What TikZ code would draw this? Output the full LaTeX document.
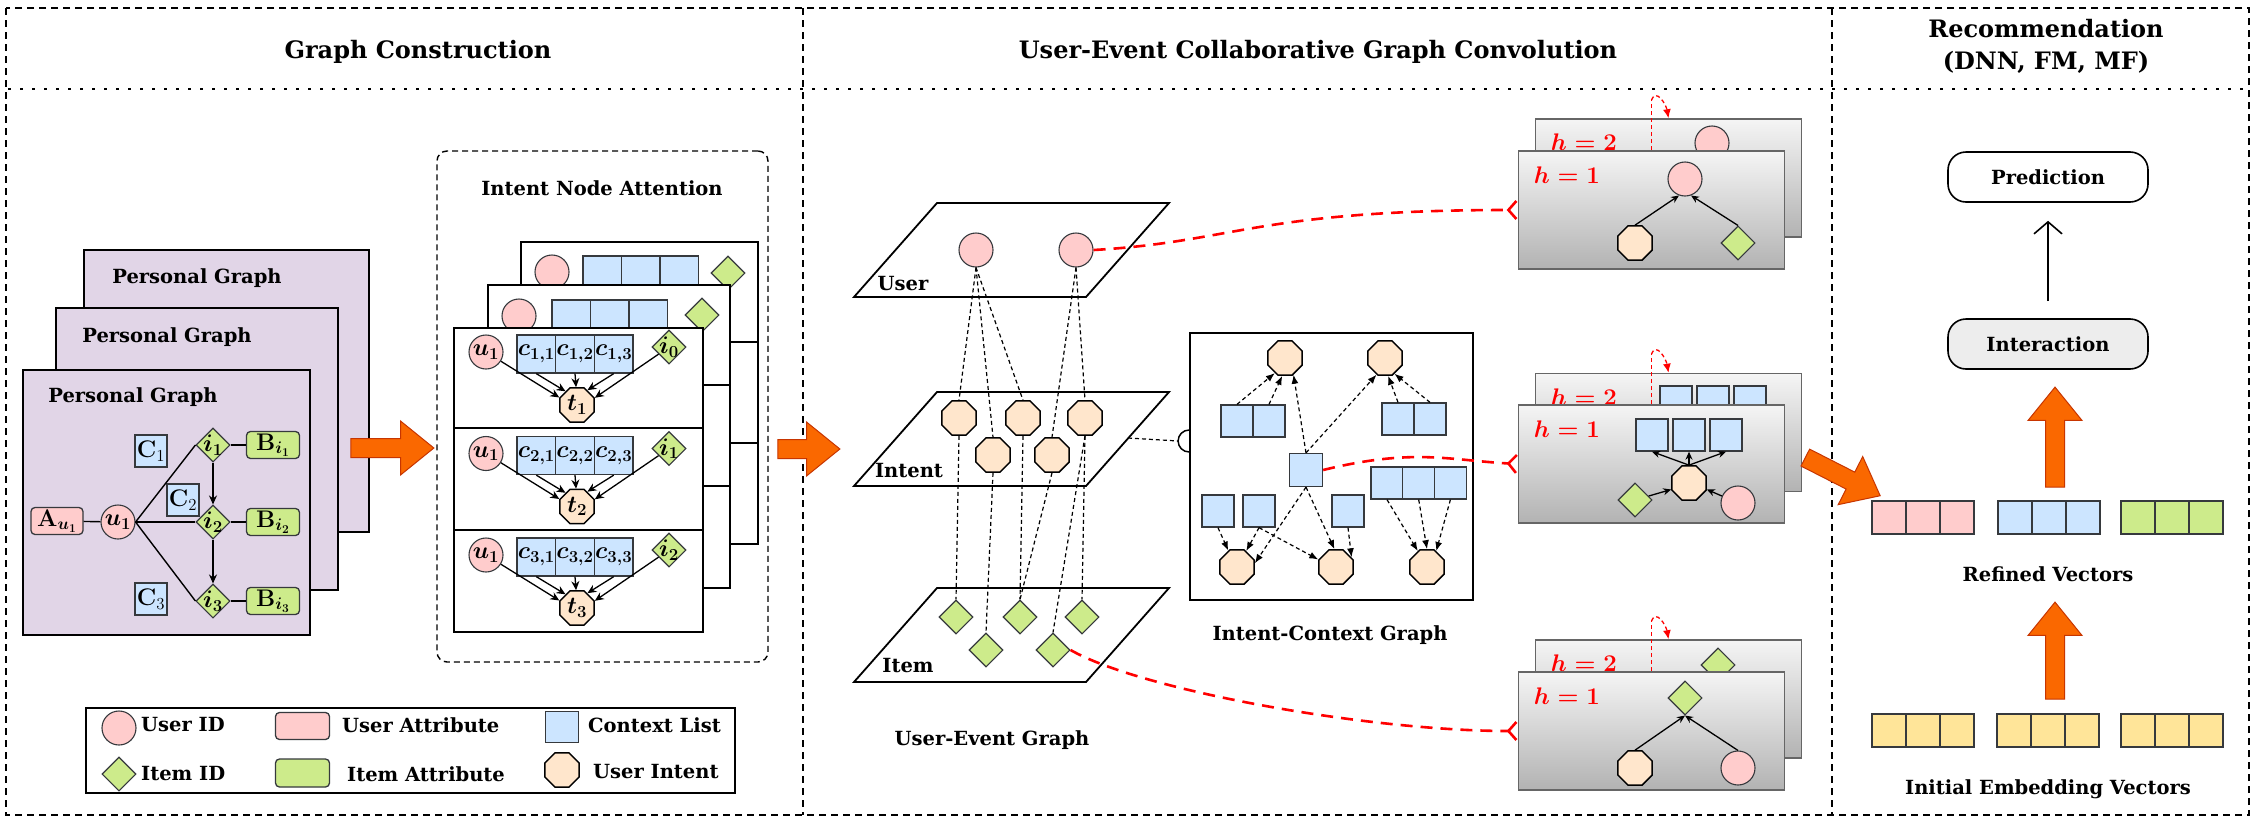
\RequirePackage{fix-cm}
\documentclass[tikz,border=0pt]{standalone}
\usepackage{amsmath}
\usepackage[no-math]{fontspec}
\setmainfont{DejaVu Serif}
\usepackage{tikz}
\usetikzlibrary{shapes.geometric,shapes.arrows,arrows.meta,positioning}

\definecolor{pgfill}{HTML}{E1D5E7}
\definecolor{pinkc}{HTML}{FFCCCC}
\definecolor{greenc}{HTML}{CDEB8B}
\definecolor{bluec}{HTML}{CCE5FF}
\definecolor{intentc}{HTML}{FFE6CC}
\definecolor{yellowc}{HTML}{FFE599}
\definecolor{edgec}{HTML}{36393D}
\definecolor{orangec}{HTML}{FA6800}
\definecolor{orangeb}{HTML}{C73500}
\definecolor{cardb}{HTML}{666666}

\newcommand{\figlbl}{\fontsize{19.5}{23}\selectfont\bfseries}
\newcommand{\figttl}{\fontsize{24}{32}\selectfont\bfseries}
\newcommand{\figmath}{\fontsize{24}{26}\selectfont}

\begin{document}
\begin{tikzpicture}[x=1pt,y=-1pt,
  framedash/.style={line width=1.6pt,dash pattern=on 7pt off 5pt},
  dotsep/.style={line width=2.6pt,dash pattern=on 2.6pt off 9.4pt},
  pgcard/.style={draw,fill=pgfill,line width=1.8pt,anchor=north west,inner sep=0pt},
  ucirc/.style={circle,draw=edgec,fill=pinkc,line width=1.1pt,minimum size=34,inner sep=0pt,font=\figmath},
  idia/.style={diamond,draw=edgec,fill=greenc,line width=1.1pt,minimum size=34,inner sep=-3pt,font=\figmath},
  uint/.style={regular polygon,regular polygon sides=8,draw,fill=intentc,line width=1.5pt,minimum size=37,inner sep=0pt,font=\figmath},
  ctxbox/.style={draw=edgec,fill=bluec,line width=1.3pt,minimum width=32,minimum height=32,inner sep=0pt,font=\figmath},
  acell/.style={ctxbox,minimum width=38.7,minimum height=38},
  uattr/.style={draw=edgec,fill=pinkc,rounded corners=4pt,line width=1.3pt,minimum width=52,minimum height=27,inner sep=0pt,font=\figmath},
  iattr/.style={uattr,fill=greenc,minimum width=53},
  plink/.style={line width=1.4pt},
  parrow/.style={line width=1.4pt,-{Stealth[length=9pt,width=8pt]}},
  attarrow/.style={line width=1.3pt,-{Stealth[length=9pt,width=8pt]}},
  attbox/.style={draw,rounded corners=10pt,line width=1.4pt,dash pattern=on 6pt off 4pt,inner sep=0pt},
  acard/.style={draw,fill=white,line width=1.8pt,anchor=north west,inner sep=0pt},
  legtext/.style={font=\figlbl,anchor=west,inner sep=0pt},
  layerplane/.style={line width=1.8pt,fill=white},
  uelink/.style={line width=1.2pt,dash pattern=on 4pt off 3pt},
  icarrow/.style={line width=1.2pt,dash pattern=on 4pt off 3pt,-{Latex[length=9pt,width=7pt]}},
  hcard/.style={draw=cardb,line width=1.6pt,top color=black!4,bottom color=black!30,minimum width=266,minimum height=118,inner sep=0pt},
  hlab/.style={text=red,font=\fontsize{24}{26}\selectfont,anchor=west,inner sep=0pt},
  hedge/.style={line width=1.3pt,-{Stealth[length=8pt,width=7pt]}},
  redflow/.style={draw=red,line width=2.6pt,dash pattern=on 12pt off 8pt,-{Straight Barb[reversed,length=8pt,width=18pt]}},
  redloop/.style={draw=red,line width=1.3pt,dash pattern=on 4pt off 3pt},
  oarrow/.style={single arrow,draw=orangeb,fill=orangec,line width=1pt,inner xsep=0pt,inner ysep=9pt,single arrow head extend=17.5pt,single arrow tip angle=78,minimum height=#1},
  recbox/.style={draw,rounded corners=18pt,line width=1.6pt,minimum width=200,minimum height=50,font=\figlbl},
  vcell/.style={draw=edgec,line width=1.4pt,minimum width=34,minimum height=33,inner sep=0pt}
]
\fill[white] (0,0) rectangle (2257,822);

% frames and titles
\draw[framedash] (6,8) rectangle (2249,815);
\draw[framedash] (803,8) -- (803,815);
\draw[framedash] (1832,8) -- (1832,815);
\draw[dotsep] (8,89) -- (2249,89);
\node[font=\figttl] (ttlgc) at (418,52) {Graph Construction};
\node[font=\figttl] (ttlue) at (1318,52) {User-Event Collaborative Graph Convolution};
\node[font=\figttl,align=center] (ttlrec) at (2046,46) {Recommendation\\(DNN, FM, MF)};

% personal graphs
\node[pgcard,minimum width=285,minimum height=282] (pg3) at (83,249) {};
\node[font=\figlbl] (pgl3) at (197,278) {Personal Graph};
\node[pgcard,minimum width=282,minimum height=282] (pg2) at (55,307) {};
\node[font=\figlbl] (pgl2) at (167,337) {Personal Graph};
\node[pgcard,minimum width=287,minimum height=265] (pg1) at (22,369) {};
\node[font=\figlbl] (pgl1) at (133,397) {Personal Graph};

\node[uattr] (pa) at (57,521) {$\mathbf{A}_{\boldsymbol{u_1}}$};
\node[ucirc] (pu) at (118,522) {$\boldsymbol{u_1}$};
\node[ctxbox] (pc1) at (151,451) {$\mathbf{C}_1$};
\node[ctxbox] (pc2) at (183,500) {$\mathbf{C}_2$};
\node[ctxbox] (pc3) at (151,599) {$\mathbf{C}_3$};
\foreach \n/\yy in {1/445,2/522,3/601}{
  \node[idia] (pi\n) at (213,\yy) {$\boldsymbol{i_\n}$};
  \node[iattr] (pb\n) at (273,\yy) {$\mathbf{B}_{\boldsymbol{i_\n}}$};
  \draw[plink] (pu.east) -- (pi\n.west);
  \draw[plink] (pi\n) -- (pb\n);
}
\draw[plink] (pa) -- (pu);
\path[parrow] (pi1) edge (pi2) (pi2) edge (pi3);

\node[oarrow=83] (oa1) at (386.5,448) {};

% intent node attention
\node[attbox,minimum width=331,minimum height=511] (attn) at (602.5,406.5) {};
\node[font=\figlbl] (attnl) at (602,188) {Intent Node Attention};
\node[acard,minimum width=237,minimum height=302] (ab3) at (520,241) {};
\draw[line width=1.8pt] (520,342) -- (757,342) (520,443) -- (757,443);
\node[ucirc] (ab3u) at (552,272) {};
\foreach \k in {1,2,3} \node[acell] (ab3c\k) at (563.8+38.5*\k,275) {};
\node[idia] (ab3i) at (728,273) {};
\node[acard,minimum width=242,minimum height=303] (ab2) at (487,284) {};
\draw[line width=1.8pt] (487,385) -- (729,385) (487,486) -- (729,486);
\node[ucirc] (ab2u) at (519,316) {};
\foreach \k in {1,2,3} \node[acell] (ab2c\k) at (532.8+38.5*\k,319) {};
\node[idia] (ab2i) at (702,315) {};
\node[acard,minimum width=249,minimum height=304] (ab1) at (453,327) {};
\draw[line width=1.8pt] (453,428) -- (702,428) (453,530) -- (702,530);
\foreach \rw in {0,1,2}{
  \pgfmathsetmacro{\yy}{327+101.5*\rw}
  \pgfmathtruncatemacro{\rr}{\rw+1}
  \node[ucirc] (au\rr) at (486,\yy+25) {$\boldsymbol{u_1}$};
  \foreach \k [evaluate=\k as \xx using 497.6+38.7*\k] in {1,2,3}
    \node[acell] (ac\rr\k) at (\xx,\yy+27) {$\boldsymbol{c_{\rr,\k}}$};
  \node[idia] (ai\rr) at (669,\yy+20) {$\boldsymbol{i_{\rw}}$};
  \node[uint] (at\rr) at (577,\yy+78) {$\boldsymbol{t_{\rr}}$};
  \draw[attarrow] (au\rr) -- (at\rr.157);
  \draw[attarrow] (ac\rr1.south) -- (at\rr.130);
  \draw[attarrow] (ac\rr2.south) -- (at\rr.93);
  \draw[attarrow] (ac\rr3.south) -- (at\rr.55);
  \draw[attarrow] (ai\rr) -- (at\rr.22);
}

\node[oarrow=62] (oa2) at (803,449) {};

% legend
\node[draw,line width=1.8pt,minimum width=649,minimum height=85,anchor=north west,inner sep=0pt] (leg) at (85,707) {};
\node[ucirc] (lgu) at (119,728) {};
\node[legtext] (lgut) at (141,725) {User ID};
\node[uattr,minimum width=54,minimum height=27] (lga) at (302.5,726) {};
\node[legtext] (lgat) at (342,725) {User Attribute};
\node[ctxbox,minimum width=33,minimum height=31] (lgc) at (562,727) {};
\node[legtext] (lgct) at (588,725) {Context List};
\node[idia] (lgi) at (119,774) {};
\node[legtext] (lgit) at (141,774) {Item ID};
\node[iattr,minimum width=54,minimum height=28] (lgb) at (302.5,773) {};
\node[legtext] (lgbt) at (347,774) {Item Attribute};
\node[uint] (lgt) at (562,770) {};
\node[legtext] (lgtt) at (593,772) {User Intent};

% user-event graph
\foreach \yy in {203,392,588}
  \draw[layerplane] (937,\yy) -- (1169,\yy) -- (1086,\yy+94) -- (854,\yy+94) -- cycle;
\node[font=\figlbl] (lbu) at (903,284) {User};
\node[font=\figlbl] (lbn) at (909,471) {Intent};
\node[font=\figlbl] (lbm) at (908,666) {Item};
\node[ucirc] (uu1) at (976,250) {};
\node[ucirc] (uu2) at (1076,250) {};
\foreach \n/\xx/\yy in {1/959/418,2/993/455,3/1023/418,4/1052/455,5/1085/418}
  \node[uint] (io\n) at (\xx,\yy) {};
\foreach \n/\xx/\yy in {1/956/617,2/986/650,3/1020/617,4/1053/650,5/1082/617}
  \node[idia] (it\n) at (\xx,\yy) {};
\foreach \a/\b in {uu1/io1,uu1/io2,uu1/io3,uu2/io4,uu2/io5}
  \draw[uelink] (\a.south) -- (\b.north);
\foreach \a/\b in {io1/it1,io2/it2,io3/it3,io4/it3,io5/it4,io5/it5}
  \draw[uelink] (\a.south) -- (\b.north);
\node[font=\figlbl] (uegl) at (992,740) {User-Event Graph};

% intent-context graph
\node[draw,line width=1.8pt,minimum width=283,minimum height=267,inner sep=0pt] (icg) at (1331.5,466.5) {};
\coordinate (hcc) at ([yshift=25.5pt]icg.west);
\draw[line width=1.5pt] ([yshift=11pt]hcc) arc[start angle=90,end angle=270,radius=11pt];
\coordinate (ipr) at (1128,438);
\draw[uelink] (ipr) -- ([xshift=-11pt]hcc);
\node[uint] (ict1) at (1285,358) {};
\node[uint] (ict2) at (1385,358) {};
\node[ctxbox] (icl1) at (1237,421) {};
\node[ctxbox] (icl2) at (1269,421) {};
\node[ctxbox] (icr1) at (1398,419) {};
\node[ctxbox] (icr2) at (1430,419) {};
\node[ctxbox,minimum size=33] (icc) at (1306,470) {};
\foreach \k in {1,2,3} \node[ctxbox] (icm\k) at (1355.3+31.7*\k,483) {};
\node[ctxbox] (ics1) at (1218,511) {};
\node[ctxbox] (ics2) at (1259,511) {};
\node[ctxbox] (ics3) at (1348,511) {};
\node[uint] (icb1) at (1237,567) {};
\node[uint] (icb2) at (1336,567) {};
\node[uint] (icb3) at (1427,567) {};
\draw[icarrow] (icl1.north) -- (ict1.236);
\draw[icarrow] (icl2.north) -- (ict1.261);
\draw[icarrow] (icc.north) -- (ict1.297);
\draw[icarrow] (icc.north) -- (ict2.243);
\draw[icarrow] (icr1.north) -- (ict2.280);
\draw[icarrow] (icr2.north) -- (ict2.301);
\draw[icarrow] (ics1.south) -- (icb1.118);
\draw[icarrow] (ics2.south) -- (icb1.60);
\draw[icarrow] (ics2.south) -- (icb2.157);
\draw[icarrow] (icc.south) -- (icb1.12);
\draw[icarrow] (icc.south) -- (icb2.95);
\draw[icarrow] (ics3.south) -- (icb2.32);
\draw[icarrow] (icm1.south) -- (icb3.120);
\draw[icarrow] (icm2.south) -- (icb3.90);
\draw[icarrow] (icm3.south) -- (icb3.60);
\node[font=\figlbl] (icgl) at (1330,635) {Intent-Context Graph};

% convolution cards
\node[hcard] (b1) at (1668.5,178) {};
\node[hlab] (h2a) at ([xshift=16pt,yshift=-24pt]b1.north west) {$\boldsymbol{h=2}$};
\node[ucirc] (hb1) at (1712,143) {};
\node[hcard] (f1) at (1651.5,210) {};
\node[hlab] (h1a) at ([xshift=16pt,yshift=-25pt]f1.north west) {$\boldsymbol{h=1}$};
\node[ucirc] (hc1) at (1685,179) {};
\node[uint] (ho1) at (1635,243) {};
\node[idia] (hd1) at (1738,243) {};
\draw[hedge] (ho1.north) -- (hc1.250);
\draw[hedge] (hd1.north) -- (hc1.290);

\node[hcard] (b2) at (1668.5,432.5) {};
\node[hlab] (h2b) at ([xshift=16pt,yshift=-24pt]b2.north west) {$\boldsymbol{h=2}$};
\foreach \k in {1,2,3} \node[ctxbox] (hbs\k) at (1639+37*\k,402) {};
\node[hcard] (f2) at (1651.5,464) {};
\node[hlab] (h1b) at ([xshift=16pt,yshift=-25pt]f2.north west) {$\boldsymbol{h=1}$};
\foreach \k in {1,2,3} \node[ctxbox] (hs\k) at (1615+37*\k,435) {};
\node[uint] (ho2) at (1689,483) {};
\node[idia] (hd2) at (1635,500) {};
\node[ucirc] (hc2) at (1738,503) {};
\foreach \k in {1,2,3} \draw[hedge] (ho2.north) -- (hs\k.south);
\draw[hedge] (hd2) -- (ho2.200);
\draw[hedge] (hc2) -- (ho2.-20);

\node[hcard] (b3) at (1668.5,699) {};
\node[hlab] (h2c) at ([xshift=16pt,yshift=-24pt]b3.north west) {$\boldsymbol{h=2}$};
\node[idia] (hbd3) at (1718,665) {};
\node[hcard] (f3) at (1651.5,731) {};
\node[hlab] (h1c) at ([xshift=16pt,yshift=-25pt]f3.north west) {$\boldsymbol{h=1}$};
\node[idia] (hd3) at (1685,698) {};
\node[uint] (ho3) at (1635,768) {};
\node[ucirc] (hc3) at (1738,768) {};
\draw[hedge] (ho3.north) -- (hd3.south);
\draw[hedge] (hc3.north) -- (hd3.south);

\foreach \f/\b in {f1/b1,f2/b2,f3/b3}{
  \draw[redloop] (\f.north) -- ++(0,-50) coordinate (q\f);
  \draw[redloop,-{Latex[length=9pt,width=8pt]}] (q\f) to[out=70,in=100,looseness=1.4] (\b.north);
}
\draw[redflow] (uu2.east) .. controls +(140,-8) and +(-260,0) .. (f1.west);
\draw[redflow] (icc.east) .. controls +(90,-22) and +(-70,-4) .. (f2.west);
\draw[redflow] (it4.east) .. controls +(70,40) and +(-150,0) .. (f3.west);

\node[oarrow=84,rotate=-27] (oa3) at (1837.5,474) {};

% recommendation
\node[recbox] (pred) at (2048,177) {Prediction};
\node[recbox,fill=black!7] (inter) at (2048,344) {Interaction};
\draw[line width=1.6pt,-{Straight Barb[length=12pt,width=28pt]}] ([yshift=17pt]inter.north) -- ([yshift=-18pt]pred.south);
\node[oarrow=100,rotate=90] (oa4) at (2055,443) {};
\node[oarrow=97,rotate=90] (oa5) at (2055,656.5) {};
\foreach \nm/\col/\xs/\yy in {rvp/pinkc/1872/517.5,rvb/bluec/1998/517.5,rvg/greenc/2121/517.5,evy/yellowc/1872/730.5,evz/yellowc/1997/730.5,evw/yellowc/2121/730.5}
  \foreach \k in {1,2,3}
    \node[vcell,fill=\col] (\nm\k) at (\xs+34*\k-17,\yy) {};
\node[font=\figlbl] (rvl) at (2048,574) {Refined Vectors};
\node[font=\figlbl] (evl) at (2048,789) {Initial Embedding Vectors};
\end{tikzpicture}
\end{document}
